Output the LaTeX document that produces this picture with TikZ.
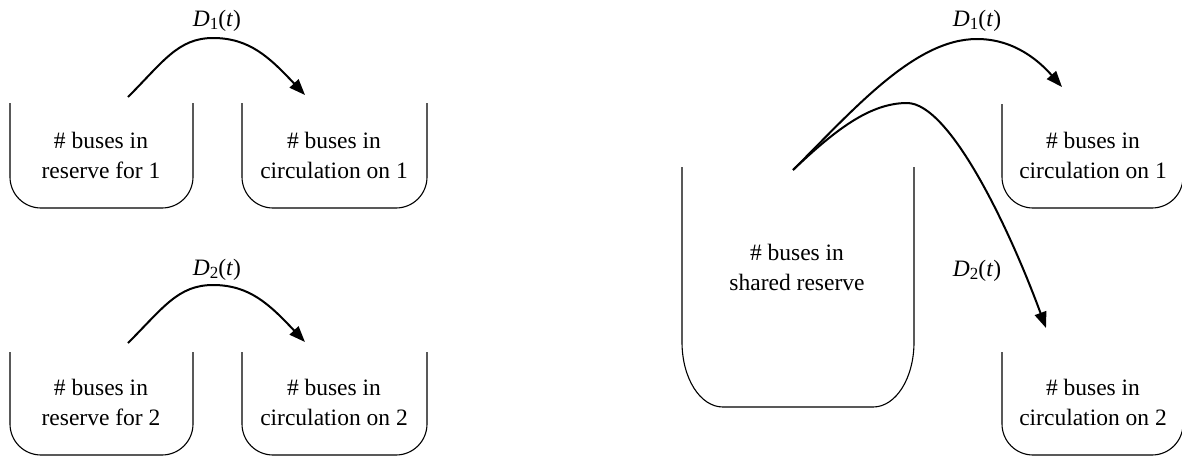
\documentclass[tikz,border=0pt]{standalone}
\usepackage{fontspec}
\setmainfont{Liberation Serif}
\usetikzlibrary{arrows.meta}
\newcommand{\flowlbl}[1]{\textit{D}\raisebox{-0.3ex}{\fontsize{17}{17}\selectfont #1}(\textit{t})}
\begin{document}
\begin{tikzpicture}[x=1pt,y=-1pt,
  bucket/.style={line width=1.1pt, rounded corners=31pt},
  txt/.style={align=center, font=\fontsize{23.5}{30}\selectfont, inner sep=0pt},
  flow/.style={line width=2pt, -{Triangle[length=16pt,width=12pt]}},
  flowlabel/.style={font=\fontsize{23.5}{28}\selectfont, inner sep=0pt}]
\useasboundingbox (0,0) rectangle (1182,456);
\clip (0,0) rectangle (1182,456);

% separate reserves: top row (line 1)
\draw[bucket] (10,103) -- (10,208) -- (193,208) -- (193,103);
\draw[bucket] (242,103) -- (242,208) -- (427,208) -- (427,103);
\node[txt] (r1) at (101,155) {\# buses in\\reserve for 1};
\node[txt] (c1) at (334,155) {\# buses in\\circulation on 1};

% separate reserves: bottom row (line 2)
\draw[bucket] (10,352) -- (10,455) -- (193,455) -- (193,352);
\draw[bucket] (242,352) -- (242,455) -- (427,455) -- (427,352);
\node[txt] (r2) at (101,402) {\# buses in\\reserve for 2};
\node[txt] (c2) at (334,402) {\# buses in\\circulation on 2};

% flows in the separate case
\coordinate (s1) at (128,97);
\coordinate (p1) at (213,38);
\coordinate (e1) at (305,95);
\draw[flow] (s1) .. controls (163,62) and (178,38) .. (p1)
  .. controls (250,38) and (270,58) .. (e1);
\node[flowlabel] (d1) at (217,21) {\flowlbl{1}};

\coordinate (s2) at (128,343);
\coordinate (p2) at (213,285);
\coordinate (e2) at (305,342);
\draw[flow] (s2) .. controls (163,308) and (178,285) .. (p2)
  .. controls (250,285) and (270,305) .. (e2);
\node[flowlabel] (d2) at (217,270) {\flowlbl{2}};

% shared reserve
\draw[line width=1.1pt] (682,167) -- (682,342)
  .. controls (682,378) and (700,407) .. (723,407)
  -- (873,407)
  .. controls (896,407) and (914,378) .. (914,342) -- (914,167);
\node[txt] (sr) at (797,267) {\# buses in\\shared reserve};

\draw[bucket] (1002,104) -- (1002,208) -- (1183,208) -- (1183,104);
\draw[bucket] (1002,352) -- (1002,455) -- (1183,455) -- (1183,352);
\node[txt] (sc1) at (1093,155) {\# buses in\\circulation on 1};
\node[txt] (sc2) at (1093,402) {\# buses in\\circulation on 2};

% flows out of the shared reserve
\coordinate (ss) at (793,170);
\coordinate (q1) at (977,39);
\coordinate (t1) at (1062,87);
\draw[flow] (ss) .. controls (855,108) and (915,39) .. (q1)
  .. controls (1015,39) and (1040,62) .. (t1);
\node[flowlabel] (sd1) at (977,21) {\flowlbl{1}};

\coordinate (q2) at (907,103);
\coordinate (t2) at (1046,328);
\draw[flow] (ss) .. controls (835,130) and (870,103) .. (q2)
  .. controls (950,103) and (1010,230) .. (t2);
\node[flowlabel] (sd2) at (977,271) {\flowlbl{2}};
\end{tikzpicture}
\end{document}
